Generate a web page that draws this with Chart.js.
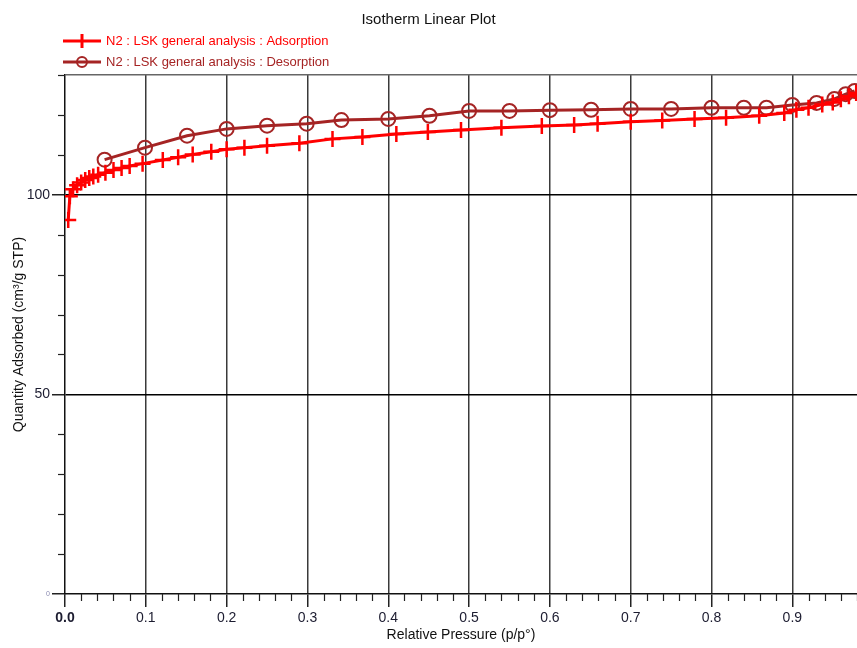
<!DOCTYPE html>
<html>
<head>
<meta charset="utf-8">
<script src="https://cdn.jsdelivr.net/npm/chart.js@4/dist/chart.umd.min.js"></script>
<style>
  html, body { margin: 0; padding: 0; background: #fff; }
  #wrap { width: 857px; height: 648px; }
</style>
</head>
<body>
<div id="wrap"><canvas id="isotherm" width="857" height="648"></canvas></div>
<script>
// values
const adsorptionP = [0.004, 0.006, 0.010, 0.015, 0.020, 0.025, 0.030, 0.035, 0.041, 0.050, 0.060, 0.070, 0.080, 0.096,
  0.121, 0.140, 0.158, 0.181, 0.200, 0.222, 0.250, 0.290, 0.331, 0.368, 0.410, 0.449, 0.490, 0.540, 0.590, 0.630,
  0.659, 0.700, 0.739, 0.779, 0.818, 0.859, 0.890, 0.905, 0.920, 0.937, 0.950, 0.960, 0.970, 0.979];
const adsorptionQ = [93.7, 99.6, 101.4, 102.4, 103.1, 103.7, 104.2, 104.6, 105.0, 105.5, 106.2, 106.7, 107.2, 107.8,
  108.7, 109.4, 110.1, 110.8, 111.4, 111.8, 112.3, 112.9, 114.0, 114.5, 115.2, 115.7, 116.2, 116.8, 117.2, 117.5,
  117.8, 118.3, 118.6, 119.0, 119.3, 119.8, 120.5, 121.3, 121.8, 122.6, 123.1, 123.9, 124.7, 125.5];

const desorptionP = [0.049, 0.099, 0.151, 0.200, 0.250, 0.299, 0.342, 0.400, 0.451, 0.500, 0.550, 0.600, 0.651,
  0.700, 0.750, 0.800, 0.840, 0.868, 0.900, 0.930, 0.952, 0.966, 0.977];
const desorptionQ = [108.8, 111.8, 114.8, 116.5, 117.3, 117.8, 118.7, 119.0, 119.8, 121.0, 121.0, 121.2, 121.3,
  121.5, 121.5, 121.8, 121.8, 121.8, 122.5, 123.0, 124.0, 125.2, 126.0];

const seriesNames = ['N2 : LSK general analysis : Adsorption', 'N2 : LSK general analysis : Desorption'];
const xLabels = ['0.0', '0.1', '0.2', '0.3', '0.4', '0.5', '0.6', '0.7', '0.8', '0.9'];
const yLabels = [0, 50, 100];

const RED = '#ff0000';
const BROWN = '#a52424';
const FONT = "'Liberation Sans', Arial, sans-serif";

const toPoints = (xs, ys) => xs.map((x, i) => ({ x: x, y: ys[i] }));

const isMajorX = v => Math.round(v * 100) % 10 === 0;
const isMajorY = v => Math.round(v) % 50 === 0;

// short minor ticks + custom legend (line with marker)
const extras = {
  id: 'extras',
  afterDraw(chart) {
    const ctx = chart.ctx;
    const xs = chart.scales.x, ys = chart.scales.y;
    ctx.save();
    ctx.strokeStyle = '#222';
    ctx.lineWidth = 1.2;
    xs.ticks.forEach(t => {
      if (isMajorX(t.value)) return;
      const px = Math.round(xs.getPixelForValue(t.value)) + 0.5;
      ctx.beginPath(); ctx.moveTo(px, xs.top); ctx.lineTo(px, xs.top + 7); ctx.stroke();
    });
    ys.ticks.forEach(t => {
      if (isMajorY(t.value)) return;
      const py = Math.round(ys.getPixelForValue(t.value)) + 0.5;
      ctx.beginPath(); ctx.moveTo(ys.right - 7, py); ctx.lineTo(ys.right, py); ctx.stroke();
    });

    // legend
    const rows = [
      { y: 41, color: RED, name: seriesNames[0], mark: 'cross' },
      { y: 62, color: BROWN, name: seriesNames[1], mark: 'circle' }
    ];
    rows.forEach(r => {
      ctx.strokeStyle = r.color;
      ctx.lineWidth = 3;
      ctx.beginPath(); ctx.moveTo(63, r.y); ctx.lineTo(101, r.y); ctx.stroke();
      if (r.mark === 'cross') {
        ctx.beginPath(); ctx.moveTo(82, r.y - 7); ctx.lineTo(82, r.y + 7); ctx.stroke();
      } else {
        ctx.lineWidth = 2;
        ctx.beginPath(); ctx.arc(82, r.y, 5, 0, Math.PI * 2); ctx.stroke();
      }
      ctx.fillStyle = r.color;
      ctx.font = '13px ' + FONT;
      ctx.textBaseline = 'middle';
      ctx.textAlign = 'left';
      ctx.fillText(r.name, 106, r.y);
    });
    ctx.restore();
  }
};

new Chart(document.getElementById('isotherm'), {
  type: 'scatter',
  data: {
    datasets: [
      {
        label: seriesNames[0],
        data: toPoints(adsorptionP, adsorptionQ),
        showLine: true,
        borderColor: RED,
        backgroundColor: RED,
        borderWidth: 3,
        tension: 0,
        pointStyle: 'cross',
        pointRadius: 8,
        pointBorderWidth: 2.5,
        pointBorderColor: RED
      },
      {
        label: seriesNames[1],
        data: toPoints(desorptionP, desorptionQ),
        showLine: true,
        borderColor: BROWN,
        backgroundColor: 'transparent',
        borderWidth: 3,
        tension: 0,
        pointStyle: 'circle',
        pointRadius: 7,
        pointBorderWidth: 2,
        pointBorderColor: BROWN,
        pointBackgroundColor: 'transparent'
      }
    ]
  },
  options: {
    responsive: false,
    animation: false,
    layout: { padding: 0, autoPadding: false },
    plugins: {
      legend: { display: false },
      tooltip: { enabled: false },
      title: {
        display: true,
        text: 'Isotherm Linear Plot',
        color: '#111',
        font: { family: FONT, size: 15, weight: 'normal' },
        padding: { top: 11, bottom: 46 }
      }
    },
    scales: {
      x: {
        type: 'linear',
        min: 0,
        max: 0.98,
        afterFit: s => { s.height = 54; s.paddingLeft = 0; s.paddingRight = 0; },
        border: { color: '#111', width: 1.5 },
        grid: {
          color: c => (c.tick && isMajorX(c.tick.value) && c.tick.value > 0) ? '#3a3a3a' : 'transparent',
          tickColor: c => (c.tick && isMajorX(c.tick.value)) ? '#222' : 'transparent',
          lineWidth: 1.5,
          tickLength: 13
        },
        ticks: {
          stepSize: 0.02,
          autoSkip: false,
          maxRotation: 0,
          padding: 3,
          color: '#1c1c30',
          font: c => ({ family: FONT, size: 14, weight: (c.tick && c.tick.value === 0) ? 'bold' : 'normal' }),
          callback: v => isMajorX(v) ? (xLabels[Math.round(v * 10)] || '') : ''
        },
        title: {
          display: true,
          text: 'Relative Pressure (p/p°)',
          color: '#111',
          font: { family: FONT, size: 14 },
          padding: { top: 0, bottom: 4 }
        }
      },
      y: {
        type: 'linear',
        min: 0,
        max: 130,
        afterFit: s => { s.width = 65; s.paddingTop = 0; s.paddingBottom = 0; },
        border: { color: '#111', width: 1.5 },
        grid: {
          color: c => {
            if (!c.tick) return 'transparent';
            if (c.tick.value === 130) return '#666';
            return (isMajorY(c.tick.value) && c.tick.value > 0) ? '#000' : 'transparent';
          },
          tickColor: c => (c.tick && isMajorY(c.tick.value)) ? '#222' : 'transparent',
          lineWidth: 1.5,
          tickLength: 13
        },
        ticks: {
          stepSize: 10,
          autoSkip: false,
          padding: 2,
          color: c => (c.tick && c.tick.value === 0) ? '#8a8ab0' : '#1c1c30',
          font: c => ({ family: FONT, size: (c.tick && c.tick.value === 0) ? 7 : 14 }),
          callback: v => yLabels.includes(v) ? String(v) : ''
        },
        title: {
          display: true,
          text: 'Quantity Adsorbed (cm³/g STP)',
          color: '#111',
          font: { family: FONT, size: 14 },
          padding: { top: 11, bottom: 0 }
        }
      }
    }
  },
  plugins: [extras]
});
</script>
</body>
</html>
